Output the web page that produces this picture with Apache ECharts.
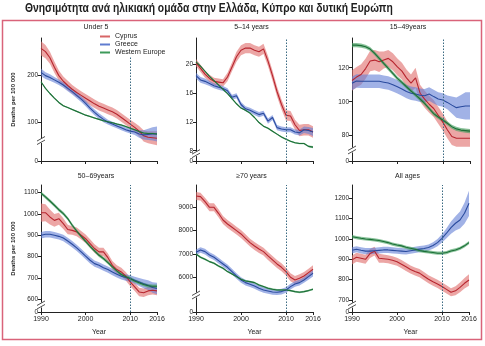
<!DOCTYPE html>
<html><head><meta charset="utf-8">
<script src="https://cdn.jsdelivr.net/npm/echarts@6/dist/echarts.min.js"></script>
<style>html,body{margin:0;padding:0;background:#fff}#c{width:485px;height:346px}</style>
</head><body><div id="c"></div>
<script>
// ---------- data ----------
const mainTitle = 'Θνησιμότητα ανά ηλικιακή ομάδα στην Ελλάδα, Κύπρο και δυτική Ευρώπη';
const countries = ['Cyprus', 'Greece', 'Western Europe'];
const panelTitles = ['Under 5', '5–14 years', '15–49years', '50–69years', '≥70 years', 'All ages'];
const yAxisName = 'Deaths per 100 000';
const xAxisName = 'Year';
const years = [1990,1991,1992,1993,1994,1995,1996,1997,1998,1999,2000,2001,2002,2003,2004,2005,2006,2007,2008,2009,2010,2011,2012,2013,2014,2015,2016];
const xTicks = [1990, 2000, 2010, 2016];
const refYear = 2010;

const yTicksU5 = [100, 200];
const yTicks5to14 = [8, 12, 16, 20];
const yTicks15to49 = [80, 100, 120];
const yTicks50to69 = [600, 700, 800, 900, 1000, 1100];
const yTicks70 = [6000, 7000, 8000, 9000];
const yTicksAll = [700, 800, 900, 1000, 1100, 1200];

// Under 5
const u5Cyprus = [258,251,238,218,200,188,179,171,164,158,152,146,140,135,131,127,123,118,111,104,97,90,82,72,69,68,67];
const u5CyprusCI = [15,14,13,12,11,10,10,9,9,9,9,9,9,9,9,9,9,9,9,9,9,10,11,12,13,14,15];
const u5Greece = [207,200,196,191,186,180,173,166,158,150,141,131,122,114,107,101,97,93,89,85,82,80,76,74,75,76,76];
const u5GreeceCI = [8,7,7,6,6,6,6,6,6,6,6,6,6,6,6,5,5,5,5,5,5,6,8,10,12,14,16];
const u5West = [187,173,162,152,143,136,132,128,124,120,116,113,110,107,104,102,100,97,95,92,88,85,81,78,77,77,76];
const u5WestCI = [1.5,1.5,1.5,1.5,1.5,1.5,1.5,1.5,1.5,1.5,1.5,1.5,1.5,1.5,1.5,1.5,1.5,1.5,1.5,1.5,1.5,1.5,1.5,1.5,1.5,1.5,1.5];

// 5-14 years
const k5Cyprus = [20.2,19.4,18.6,18.0,17.6,17.5,17.4,18.2,19.6,21.0,21.9,22.2,22.2,21.9,21.7,22.1,20.4,18.4,16.2,14.4,12.9,12.8,11.6,10.8,10.9,10.9,10.6];
const k5CyprusCI = [0.5,0.5,0.5,0.5,0.5,0.5,0.5,0.6,0.6,0.7,0.7,0.7,0.7,0.7,0.7,0.7,0.7,0.7,0.7,0.7,0.7,0.7,0.7,0.8,0.8,0.8,0.8];
const k5Greece = [18.4,17.8,17.6,17.3,17.0,16.8,16.6,16.3,15.4,15.6,14.4,13.8,13.6,13.3,13.0,13.2,12.1,12.6,11.2,11.0,10.9,10.9,10.6,10.5,10.9,10.8,10.6];
const k5GreeceCI = [0.4,0.4,0.4,0.35,0.35,0.35,0.35,0.35,0.35,0.35,0.35,0.35,0.35,0.35,0.35,0.35,0.35,0.35,0.35,0.35,0.35,0.35,0.35,0.4,0.45,0.5,0.55];
const k5West = [20.3,19.7,19.0,18.3,17.7,17.1,16.5,15.9,15.2,14.5,13.9,13.6,13.2,12.6,11.9,11.4,11.1,10.7,10.3,9.9,9.6,9.3,9.1,9.0,9.0,8.6,8.5];
const k5WestCI = [0.1,0.1,0.1,0.1,0.1,0.1,0.1,0.1,0.1,0.1,0.1,0.1,0.1,0.1,0.1,0.1,0.1,0.1,0.1,0.1,0.1,0.1,0.1,0.1,0.1,0.12,0.14];

// 15-49 years
const a15Cyprus = [112.5,114.5,116,119.5,124,124.5,123.5,124.5,125.5,123.5,120.5,118,114,111,114,105,101.5,98.5,96,92,88,83.5,79.5,78.5,78.5,78.5,78.5];
const a15CyprusCI = [6,6,6,6,6,6,6,5,5,5,5,5,5,5,6,5,5,5,5,5,5,5,5,5,5,5,5];
const a15Greece = [110.8,112.2,112,112,112,112,112,111.5,111,110,108.8,107.5,106,105,104.5,103.8,103.5,104.5,103,101.6,101,99.6,98,96.5,97,97.5,97.5];
const a15GreeceCI = [4,4,4,4,4,4,4,4,4,4,4,4,4,4,4,4,4,4,4,4,4,4,5,6,7,8,8];
const a15West = [133.3,133.3,133,132.4,131,128.4,125.5,122.5,119.6,116.7,113.7,111.4,108.8,106.3,104,101.6,99,96,93,91,89.2,87.3,85.3,84,83.3,83,82.7];
const a15WestCI = [1.2,1.2,1.2,1.2,1.2,1.2,1.2,1.2,1.2,1.2,1.2,1.2,1.2,1.2,1.2,1.2,1.2,1.2,1.2,1.2,1.2,1.2,1.2,1.2,1.2,1.2,1.2];

// 50-69 years
const a50Cyprus = [1006,1006,986,970,978,955,927,923,916,900,884,861,838,822,822,795,759,739,728,708,681,658,634,630,639,642,639];
const a50CyprusCI = [43,40,35,30,28,25,22,20,20,20,20,20,20,20,20,20,20,20,20,20,20,20,20,20,20,20,20];
const a50Greece = [900,905,905,900,895,887,873,858,841,822,802,783,767,759,748,739,728,717,708,702,697,689,681,673,666,655,650];
const a50GreeceCI = [15,15,15,15,15,15,15,15,15,15,15,15,15,15,15,15,15,15,15,15,15,17,19,21,23,25,27];
const a50West = [1098,1080,1061,1041,1020,1002,978,947,920,895,872,848,827,806,791,772,752,733,716,705,697,686,677,669,663,661,661];
const a50WestCI = [8,8,8,8,8,8,8,8,8,8,8,8,8,8,8,8,8,8,8,8,8,8,8,8,8,8,8];

// >=70 years
const a70Cyprus = [9486,9457,9243,9000,9000,8743,8457,8286,8143,8000,7857,7671,7486,7343,7214,7100,6914,6743,6571,6429,6243,6000,5886,5957,6057,6200,6343];
const a70CyprusCI = [170,170,170,170,170,170,170,170,170,170,170,170,170,170,170,170,170,170,170,170,170,170,170,170,170,170,170];
const a70Greece = [7071,7171,7100,6957,6857,6714,6571,6429,6243,6057,5886,5771,5700,5629,5529,5457,5414,5371,5357,5386,5457,5600,5714,5771,5886,6029,6171];
const a70GreeceCI = [120,120,120,120,120,120,120,120,120,120,120,120,120,120,120,120,120,120,120,120,120,120,120,120,120,130,140];
const a70West = [7000,6857,6771,6671,6600,6486,6386,6243,6143,6029,5914,5843,5814,5771,5671,5600,5529,5486,5457,5457,5457,5429,5386,5357,5386,5429,5486];
const a70WestCI = [40,40,40,40,40,40,40,40,40,40,40,40,40,40,40,40,40,40,40,40,40,40,40,40,40,40,40];

// All ages
const allCyprus = [897,910,905,900,928,940,905,903,900,895,888,876,863,850,840,832,817,802,790,779,766,752,738,745,762,782,798];
const allCyprusCI = [22,22,22,22,22,22,22,20,20,20,20,20,20,20,20,20,20,20,20,20,20,20,20,22,24,26,28];
const allGreece = [944,949,944,940,940,942,944,946,946,944,942,940,938,942,946,950,953,958,968,982,1003,1028,1056,1077,1093,1126,1175];
const allGreeceCI = [15,15,15,15,15,15,15,15,15,15,15,15,15,15,15,15,15,15,16,18,20,25,30,35,42,52,62];
const allWest = [1011,1007,1003,1000,998,995,992,987,982,975,970,966,959,954,949,943,939,936,933,930,930,933,941,946,954,966,982];
const allWestCI = [8,8,8,8,8,8,8,8,8,8,8,8,8,8,8,8,8,8,8,8,8,8,8,8,8,8,8];

// ---------- layout / style ----------
const lineColors = ['#b7262f', '#2a4b9e', '#1c6f37'];
const bandColors = ['rgba(224,112,110,0.62)', 'rgba(98,126,214,0.6)', 'rgba(66,158,94,0.62)'];
const legendColors = ['#d76566', '#5f7cd0', '#3d9a5a'];
const fontFam = '"Liberation Sans", Arial, sans-serif';

const panels = [
  { values: [u5Cyprus, u5Greece, u5West], ci: [u5CyprusCI, u5GreeceCI, u5WestCI], ticks: yTicksU5, range: [18.5, 280], brk: 62 },
  { values: [k5Cyprus, k5Greece, k5West], ci: [k5CyprusCI, k5GreeceCI, k5WestCI], ticks: yTicks5to14, range: [6.58, 23.6], brk: 7.6 },
  { values: [a15Cyprus, a15Greece, a15West], ci: [a15CyprusCI, a15GreeceCI, a15WestCI], ticks: yTicks15to49, range: [65.1, 137.5], brk: 71.6 },
  { values: [a50Cyprus, a50Greece, a50West], ci: [a50CyprusCI, a50GreeceCI, a50WestCI], ticks: yTicks50to69, range: [540, 1136], brk: 573 },
  { values: [a70Cyprus, a70Greece, a70West], ci: [a70CyprusCI, a70GreeceCI, a70WestCI], ticks: yTicks70, range: [4511, 9957], brk: 5240 },
  { values: [allCyprus, allGreece, allWest], ci: [allCyprusCI, allGreeceCI, allWestCI], ticks: yTicksAll, range: [641, 1265], brk: 675 }
];
const grids = [
  { left: 41, top: 38, width: 116, height: 123 },
  { left: 196, top: 38, width: 117, height: 123 },
  { left: 352, top: 38, width: 118, height: 123 },
  { left: 41, top: 185, width: 116, height: 127 },
  { left: 196, top: 185, width: 117, height: 127 },
  { left: 352, top: 185, width: 117, height: 127 }
];

const chart = echarts.init(document.getElementById('c'), null, { renderer: 'canvas' });

const xAxes = grids.map((g, i) => ({
  type: 'value', gridIndex: i, min: 1990, max: 2016,
  axisLine: { show: true, onZero: false, lineStyle: { color: '#222', width: 1 } },
  axisTick: { show: true, length: 3, customValues: xTicks, lineStyle: { color: '#222' } },
  axisLabel: { show: i >= 3, customValues: xTicks, fontSize: 7, color: '#222', margin: 4, fontFamily: fontFam,
               formatter: v => String(v) },
  splitLine: { show: false },
  name: i >= 3 ? xAxisName : '', nameLocation: 'middle', nameGap: 17,
  nameTextStyle: { fontSize: 7, color: '#222', fontFamily: fontFam }
}));

const yAxes = panels.map((p, i) => {
  const lo = p.range[0];
  const vals = [lo].concat(p.ticks);
  return {
    type: 'value', gridIndex: i, min: lo, max: p.range[1],
    axisLine: { show: true, onZero: false, lineStyle: { color: '#222', width: 1 } },
    axisTick: { show: true, length: 3, customValues: vals, lineStyle: { color: '#222' } },
    axisLabel: {
      customValues: vals, fontSize: 6.5, color: '#222', margin: 3, fontFamily: fontFam,
      formatter: v => (Math.abs(v - lo) < 1e-6 ? '0' : String(v))
    },
    splitLine: { show: false },
    name: (i === 0 || i === 3) ? yAxisName : '', nameLocation: 'middle', nameGap: 25, nameRotate: 90,
    nameTextStyle: { fontSize: 6, fontWeight: 'bold', color: '#222', fontFamily: fontFam }
  };
});

function bandRenderer(fill) {
  return function (params, api) {
    if (params.dataIndexInside !== 0) return null;
    const n = params.dataInsideLength;
    const upper = [], lower = [];
    for (let k = 0; k < n; k++) {
      const x = api.value(0, k);
      upper.push(api.coord([x, api.value(2, k)]));
      lower.push(api.coord([x, api.value(1, k)]));
    }
    return {
      type: 'polygon',
      shape: { points: upper.concat(lower.reverse()) },
      style: { fill: fill, stroke: 'none' }
    };
  };
}

const series = [];
panels.forEach((p, i) => {
  p.values.forEach((v, j) => {
    const ci = p.ci[j];
    series.push({
      type: 'custom', name: 'band', xAxisIndex: i, yAxisIndex: i, silent: true, z: 1,
      data: years.map((y, k) => [y, v[k] - ci[k], v[k] + ci[k]]),
      encode: { x: 0, y: [1, 2] },
      renderItem: bandRenderer(bandColors[j])
    });
  });
  p.values.forEach((v, j) => {
    const s = {
      type: 'line', name: countries[j], xAxisIndex: i, yAxisIndex: i,
      data: years.map((y, k) => [y, v[k]]), symbol: 'none',
      lineStyle: { color: lineColors[j], width: 1.1 }, itemStyle: { color: lineColors[j] }, z: 3
    };
    if (j === 0) {
      s.markLine = {
        silent: true, symbol: 'none', label: { show: false },
        lineStyle: { color: '#3b6a82', type: [1.5, 1.5], width: 1 },
        data: [{ xAxis: refYear }]
      };
    }
    series.push(s);
  });
});

const titles = grids.map((g, i) => ({
  text: panelTitles[i], left: g.left + g.width / 2 - 3, top: i < 3 ? 24 : 173,
  textAlign: 'center', padding: 0,
  textStyle: { fontSize: 7, fontWeight: 'normal', color: '#222', fontFamily: fontFam }
}));

chart.setOption({
  animation: false,
  title: titles,
  grid: grids,
  xAxis: xAxes,
  yAxis: yAxes,
  legend: {
    orient: 'vertical', left: 100, top: 33, padding: 0, itemGap: 1,
    itemWidth: 10, itemHeight: 2, icon: 'rect', backgroundColor: '#fff', z: 10,
    textStyle: { fontSize: 7, color: '#222', lineHeight: 7, fontFamily: fontFam },
    data: countries.map((c, j) => ({ name: c, itemStyle: { color: legendColors[j] } }))
  },
  series: series
});

// decorations: main title, frame, axis-break marks
const gfx = [
  { type: 'text', x: 25, y: 9, scaleX: 0.86, z: 50,
    style: { text: mainTitle, x: 0, y: 0, align: 'left', verticalAlign: 'middle',
             font: 'bold 12px "Liberation Sans", Arial, sans-serif', fill: '#1e1e1e' } },
  { type: 'rect', shape: { x: 2.5, y: 20.5, width: 479, height: 319 },
    style: { fill: 'none', stroke: '#d9637a', lineWidth: 1.5 }, z: 50 }
];
panels.forEach((p, i) => {
  const pt = chart.convertToPixel({ gridIndex: i }, [1990, p.brk]);
  const px = pt[0], py = pt[1];
  gfx.push({ type: 'rect', shape: { x: px - 1.5, y: py - 2.5, width: 3, height: 5 }, style: { fill: '#fff' }, z: 60 });
  gfx.push({ type: 'line', shape: { x1: px - 4, y1: py + 0.5, x2: px + 4, y2: py - 4 }, style: { stroke: '#222', lineWidth: 0.8 }, z: 61 });
  gfx.push({ type: 'line', shape: { x1: px - 4, y1: py + 4, x2: px + 4, y2: py - 0.5 }, style: { stroke: '#222', lineWidth: 0.8 }, z: 61 });
});
chart.setOption({ graphic: gfx });
</script>
</body></html>
